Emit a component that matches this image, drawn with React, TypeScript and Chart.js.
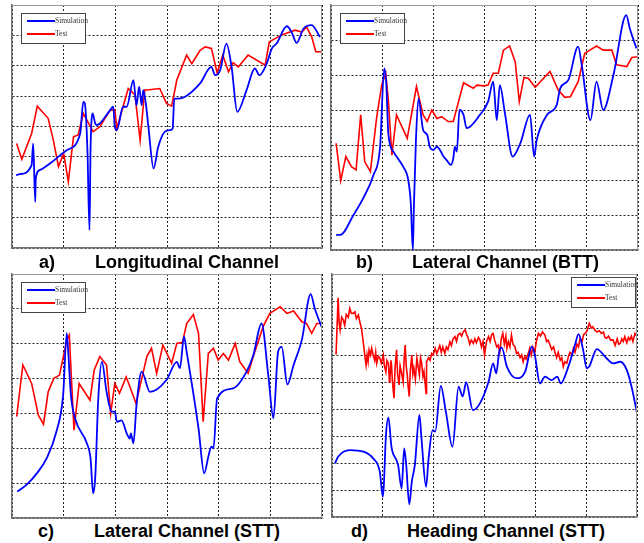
import React, { useEffect, useRef } from "react";
import { Chart, registerables } from "chart.js";
Chart.register(...registerables);

// ---- Panel a: Longitudinal Channel ----
const aSimX = [0.08, 0.15, 0.38, 0.41, 0.45, 0.46, 0.54, 0.74, 1.06, 1.32, 1.38, 1.41, 1.46, 1.5, 1.52, 1.56, 1.61, 1.64, 1.7, 1.9, 1.96, 1.99, 2.03, 2.15, 2.22, 2.35, 2.41, 2.46, 2.51, 2.54, 2.59, 2.64, 2.74, 2.83, 2.96, 3.06, 3.11, 3.14, 3.22, 3.35, 3.64, 3.86, 3.93, 4.03, 4.15, 4.25, 4.36, 4.54, 4.7, 4.79, 4.93, 5.03, 5.12, 5.32, 5.41, 5.51, 5.64, 5.8, 5.96];
const aSimY = [2.4, 2.43, 2.73, 3.44, 1.52, 2.29, 2.57, 2.79, 3.22, 3.77, 4.81, 4.76, 3.22, 0.59, 3.22, 4.43, 4.1, 4.05, 4.1, 4.54, 4.65, 3.99, 3.88, 4.65, 4.65, 5.53, 4.7, 5.31, 4.7, 5.2, 4.76, 3.99, 2.62, 3.33, 3.83, 3.88, 3.94, 4.92, 4.92, 4.98, 5.42, 5.96, 5.69, 5.86, 6.73, 5.96, 4.48, 5.2, 5.91, 5.69, 6.07, 6.57, 6.73, 7.3, 7.11, 6.75, 7.22, 7.34, 6.95];
const aTestX = [0.09, 0.19, 0.38, 0.49, 0.7, 0.8, 0.9, 1.0, 1.09, 1.19, 1.28, 1.38, 1.57, 1.7, 1.9, 1.99, 2.03, 2.25, 2.38, 2.48, 2.57, 2.61, 2.86, 2.99, 3.09, 3.19, 3.38, 3.48, 3.64, 3.74, 3.86, 3.97, 4.08, 4.19, 4.28, 4.38, 4.57, 4.9, 4.98, 5.1, 5.26, 5.48, 5.61, 5.7, 5.8, 5.88, 6.0];
const aTestY = [3.44, 2.92, 3.77, 4.67, 4.27, 3.55, 2.68, 3.11, 2.18, 3.66, 3.72, 4.43, 3.83, 3.99, 4.54, 4.54, 3.94, 5.25, 5.04, 3.55, 5.2, 5.2, 5.25, 4.76, 4.67, 5.53, 6.35, 6.07, 6.51, 6.62, 6.57, 5.77, 6.35, 5.8, 6.1, 5.96, 6.35, 6.02, 6.79, 6.9, 7.04, 7.17, 7.11, 7.28, 6.95, 6.46, 6.46];

// ---- Panel b: Lateral Channel (BTT) ----
const bSimX = [0.1, 0.18, 0.44, 0.63, 0.83, 0.96, 1.04, 1.08, 1.12, 1.22, 1.41, 1.51, 1.56, 1.6, 1.62, 1.66, 1.71, 1.8, 1.88, 1.93, 2.0, 2.07, 2.13, 2.2, 2.26, 2.34, 2.39, 2.42, 2.46, 2.51, 2.59, 2.65, 2.91, 3.07, 3.17, 3.24, 3.3, 3.4, 3.55, 3.7, 3.89, 3.97, 4.02, 4.22, 4.41, 4.48, 4.64, 4.83, 4.9, 5.07, 5.19, 5.32, 5.52, 5.77, 5.84, 5.97];
const bSimY = [0.43, 0.43, 1.0, 1.48, 2.14, 2.95, 5.19, 4.76, 3.33, 2.81, 2.38, 2.0, 1.33, 0.0, 1.24, 3.14, 4.33, 3.43, 3.29, 2.95, 2.86, 2.95, 2.86, 2.67, 2.57, 2.43, 2.62, 2.95, 2.81, 4.0, 3.86, 3.48, 3.86, 4.24, 4.81, 3.71, 4.71, 3.9, 2.67, 3.05, 3.86, 2.67, 3.14, 3.86, 4.14, 4.62, 4.86, 5.81, 5.29, 3.71, 4.81, 4.0, 5.0, 6.71, 6.33, 5.76];
const bTestX = [0.1, 0.19, 0.29, 0.4, 0.49, 0.58, 0.66, 0.77, 0.89, 0.99, 1.07, 1.12, 1.19, 1.28, 1.49, 1.67, 1.8, 1.88, 1.97, 2.07, 2.16, 2.29, 2.39, 2.59, 2.78, 2.85, 2.98, 3.07, 3.17, 3.27, 3.37, 3.49, 3.6, 3.68, 3.77, 3.86, 3.99, 4.28, 4.44, 4.57, 4.68, 4.83, 4.96, 5.06, 5.19, 5.32, 5.49, 5.58, 5.78, 5.88, 6.0];
const bTestY = [3.05, 1.98, 2.67, 2.38, 2.29, 3.86, 2.52, 2.24, 3.76, 4.71, 5.05, 4.29, 2.71, 3.86, 3.19, 4.67, 3.86, 3.67, 4.0, 3.76, 3.81, 3.67, 3.67, 4.78, 4.62, 4.71, 4.69, 4.71, 5.05, 5.05, 5.71, 5.83, 5.38, 4.24, 4.93, 4.9, 4.65, 5.1, 4.57, 4.36, 4.38, 4.81, 5.62, 5.71, 5.83, 5.71, 5.71, 5.29, 5.24, 5.5, 5.52];

// ---- Panel c: Lateral Channel (STT) ----
const cSimX = [0.1, 0.28, 0.48, 0.67, 0.86, 0.99, 1.06, 1.09, 1.14, 1.22, 1.45, 1.52, 1.57, 1.61, 1.67, 1.74, 1.83, 1.93, 1.99, 2.03, 2.12, 2.22, 2.28, 2.3, 2.35, 2.41, 2.51, 2.67, 2.99, 3.19, 3.25, 3.33, 3.38, 3.61, 3.72, 3.8, 3.86, 3.9, 3.97, 4.28, 4.54, 4.67, 4.83, 4.96, 5.06, 5.15, 5.22, 5.33, 5.45, 5.61, 5.78, 5.86, 5.99];
const cSimY = [0.76, 0.95, 1.28, 1.71, 2.48, 3.53, 5.3, 4.72, 3.53, 2.86, 2.14, 1.71, 0.71, 1.14, 3.43, 4.48, 3.62, 3.05, 3.05, 2.76, 2.8, 2.43, 2.28, 2.43, 2.14, 3.24, 4.2, 3.62, 3.96, 4.48, 4.3, 5.2, 4.77, 2.57, 1.28, 1.76, 2.05, 2.0, 3.43, 3.72, 4.2, 4.67, 5.58, 4.1, 2.86, 4.77, 4.91, 3.83, 4.39, 5.11, 6.42, 6.01, 5.49];
const cTestX = [0.09, 0.21, 0.38, 0.51, 0.61, 0.7, 0.81, 0.92, 1.06, 1.11, 1.15, 1.2, 1.3, 1.51, 1.59, 1.7, 1.83, 1.91, 1.99, 2.08, 2.21, 2.4, 2.61, 2.7, 2.8, 2.92, 3.09, 3.19, 3.3, 3.38, 3.51, 3.61, 3.7, 3.8, 3.9, 3.99, 4.09, 4.19, 4.32, 4.41, 4.57, 4.7, 4.86, 4.99, 5.19, 5.32, 5.45, 5.61, 5.7, 5.8, 5.9, 6.0];
const cTestY = [2.91, 4.39, 3.86, 2.95, 2.69, 3.62, 4.01, 4.1, 5.1, 5.25, 4.01, 2.52, 3.86, 3.38, 4.24, 4.63, 4.39, 3.0, 3.86, 3.58, 4.05, 3.29, 4.63, 4.87, 4.15, 4.96, 4.44, 5.01, 5.04, 5.58, 5.84, 5.3, 2.76, 4.72, 4.87, 4.53, 4.72, 4.53, 5.01, 4.48, 4.15, 4.77, 5.49, 5.87, 6.06, 5.87, 5.94, 5.63, 5.58, 5.3, 5.58, 5.58];

// ---- Panel d: Heading Channel (STT) ----
const dSimX = [0.06, 0.12, 0.35, 0.62, 0.81, 0.94, 1.0, 1.02, 1.06, 1.11, 1.17, 1.3, 1.37, 1.42, 1.46, 1.52, 1.57, 1.63, 1.72, 1.76, 1.85, 1.9, 1.98, 2.03, 2.14, 2.24, 2.37, 2.49, 2.57, 2.64, 2.77, 2.91, 3.08, 3.17, 3.23, 3.29, 3.34, 3.44, 3.63, 3.8, 3.93, 3.99, 4.09, 4.19, 4.32, 4.43, 4.5, 4.65, 4.78, 4.85, 4.94, 5.01, 5.06, 5.21, 5.4, 5.53, 5.67, 5.8, 5.9, 6.0];
const dSimY = [1.99, 2.23, 2.48, 2.42, 2.17, 1.68, 0.75, 1.19, 2.98, 3.68, 2.6, 1.93, 1.06, 2.54, 1.93, 0.47, 1.31, 1.93, 3.78, 2.91, 1.12, 2.17, 3.22, 3.16, 4.86, 3.9, 2.6, 4.83, 4.46, 4.99, 3.96, 4.21, 5.01, 5.69, 5.32, 6.12, 6.27, 5.57, 5.14, 5.38, 6.31, 6.0, 4.95, 5.2, 5.07, 5.2, 4.95, 5.57, 6.37, 6.77, 6.19, 5.51, 5.57, 6.22, 5.88, 5.69, 5.75, 5.44, 4.77, 3.84];
const dTestX = [0.08, 0.11, 0.12, 0.14, 0.16, 0.19, 0.22, 0.25, 0.28, 0.32, 0.35, 0.38, 0.42, 0.45, 0.48, 0.52, 0.55, 0.58, 0.62, 0.65, 0.67, 0.69, 0.71, 0.73, 0.76, 0.78, 0.81, 0.84, 0.86, 0.88, 0.91, 0.94, 0.97, 1.01, 1.03, 1.06, 1.08, 1.11, 1.13, 1.14, 1.16, 1.17, 1.19, 1.22, 1.24, 1.27, 1.29, 1.32, 1.34, 1.37, 1.4, 1.42, 1.44, 1.46, 1.48, 1.5, 1.52, 1.54, 1.57, 1.59, 1.61, 1.64, 1.67, 1.7, 1.72, 1.74, 1.76, 1.79, 1.81, 1.83, 1.85, 1.86, 1.9, 1.93, 1.96, 1.99, 2.03, 2.06, 2.09, 2.12, 2.15, 2.18, 2.22, 2.25, 2.28, 2.32, 2.35, 2.38, 2.42, 2.45, 2.48, 2.52, 2.55, 2.58, 2.62, 2.65, 2.68, 2.71, 2.74, 2.78, 2.81, 2.84, 2.88, 2.91, 2.94, 2.97, 3.0, 3.01, 3.04, 3.08, 3.11, 3.14, 3.17, 3.2, 3.24, 3.27, 3.3, 3.33, 3.36, 3.39, 3.42, 3.44, 3.47, 3.5, 3.53, 3.56, 3.6, 3.63, 3.66, 3.7, 3.73, 3.76, 3.79, 3.82, 3.86, 3.89, 3.92, 3.95, 3.99, 4.02, 4.06, 4.1, 4.14, 4.19, 4.22, 4.25, 4.29, 4.32, 4.36, 4.39, 4.42, 4.45, 4.49, 4.52, 4.55, 4.58, 4.62, 4.65, 4.68, 4.72, 4.75, 4.78, 4.82, 4.85, 4.88, 4.92, 4.95, 4.98, 5.02, 5.06, 5.1, 5.13, 5.17, 5.21, 5.26, 5.3, 5.34, 5.37, 5.4, 5.44, 5.48, 5.53, 5.57, 5.61, 5.64, 5.67, 5.7, 5.73, 5.76, 5.8, 5.83, 5.86, 5.89, 5.92, 5.96, 6.0];
const dTestY = [6.02, 7.6, 8.12, 7.2, 6.93, 7.4, 7.3, 7.1, 7.5, 7.4, 7.73, 7.55, 7.54, 7.6, 7.35, 7.48, 7.2, 6.99, 6.4, 5.9, 5.63, 6.0, 5.75, 6.19, 6.0, 6.25, 6.0, 5.8, 6.1, 5.69, 5.95, 5.88, 5.7, 6.0, 5.6, 5.38, 5.8, 5.69, 5.0, 5.14, 5.8, 5.63, 5.0, 4.4, 5.5, 6.19, 5.3, 4.89, 5.6, 5.32, 5.0, 5.9, 6.37, 5.6, 5.26, 4.8, 4.46, 5.4, 6.0, 5.3, 5.51, 5.1, 5.88, 5.5, 5.26, 5.9, 5.75, 5.2, 5.38, 5.0, 4.58, 5.75, 5.9, 5.8, 6.06, 6.0, 6.25, 6.05, 6.19, 6.35, 6.1, 6.3, 6.06, 6.3, 6.2, 6.49, 6.35, 6.6, 6.68, 6.5, 6.75, 6.8, 6.7, 6.85, 6.93, 6.75, 6.62, 6.4, 6.55, 6.43, 6.6, 6.45, 6.65, 6.56, 6.3, 6.5, 6.0, 6.12, 6.5, 6.68, 6.5, 6.75, 6.8, 6.55, 6.3, 6.37, 6.1, 6.6, 6.8, 6.4, 6.7, 6.25, 6.5, 6.3, 6.74, 6.4, 6.3, 6.06, 6.1, 5.9, 6.0, 5.75, 5.95, 5.85, 6.05, 6.25, 6.0, 6.3, 6.12, 6.5, 6.8, 6.7, 6.85, 6.74, 6.5, 6.55, 6.37, 6.2, 6.3, 6.06, 5.9, 6.1, 5.81, 5.9, 5.57, 5.75, 5.7, 5.94, 6.1, 6.0, 6.25, 6.1, 6.4, 6.3, 6.62, 6.5, 6.75, 6.8, 6.9, 7.17, 7.0, 7.05, 6.93, 6.85, 6.9, 6.8, 6.85, 6.65, 6.62, 6.7, 6.55, 6.56, 6.35, 6.6, 6.4, 6.43, 6.6, 6.5, 6.68, 6.45, 6.65, 6.56, 6.7, 6.5, 6.8, 6.68];

const seriesNames = ["Simulation", "Test"];
const seriesColors = ["#0000ff", "#ff0000"];

const xTicksMax = 6;
const yMaxA = 8;
const yMaxB = 7;
const yMaxC = 7;
const yMaxD = 9;

const titles = [
  { tag: "a)", text: "Longitudinal Channel" },
  { tag: "b)", text: "Lateral Channel (BTT)" },
  { tag: "c)", text: "Lateral Channel (STT)" },
  { tag: "d)", text: "Heading Channel (STT)" },
];

const pts = (xs: number[], ys: number[]) => xs.map((x, i) => ({ x, y: ys[i] }));

type PanelProps = {
  left: number;
  top: number;
  w: number;
  h: number;
  ymax: number;
  simX: number[];
  simY: number[];
  testX: number[];
  testY: number[];
  legendRight?: boolean;
};

const PAD = 3;

function Panel(p: PanelProps) {
  const ref = useRef<HTMLCanvasElement | null>(null);
  useEffect(() => {
    if (!ref.current) return;
    const framePlugin = {
      id: "frameLegend",
      afterDraw(chart: any) {
        const { ctx, chartArea } = chart;
        const { left, top, right, bottom } = chartArea;
        ctx.save();
        ctx.strokeStyle = "#9a9a9a";
        ctx.lineWidth = 1;
        ctx.beginPath();
        ctx.moveTo(left, top + 0.5);
        ctx.lineTo(right - 0.5, top + 0.5);
        ctx.lineTo(right - 0.5, bottom);
        ctx.stroke();
        const bw = 64;
        const bh = 30;
        const bx = p.legendRight ? right - 2 - bw : left + 9;
        const by = p.legendRight ? top + 3 : top + 8;
        ctx.fillStyle = "#ffffff";
        ctx.fillRect(bx, by, bw, bh);
        ctx.strokeStyle = "#444444";
        ctx.lineWidth = 1;
        ctx.strokeRect(bx + 0.5, by + 0.5, bw, bh);
        chart.data.datasets.forEach((ds: any, i: number) => {
          const yy = by + 8 + i * 13;
          ctx.strokeStyle = ds.borderColor;
          ctx.lineWidth = 2;
          ctx.beginPath();
          ctx.moveTo(bx + 6, yy);
          ctx.lineTo(bx + 34, yy);
          ctx.stroke();
          ctx.fillStyle = "#333333";
          ctx.font = "7.5px 'Liberation Serif', 'DejaVu Serif', serif";
          ctx.textBaseline = "middle";
          ctx.textAlign = "left";
          ctx.fillText(ds.label, bx + 34, yy);
        });
        ctx.restore();
      },
    };
    const chart = new Chart(ref.current, {
      type: "line",
      data: {
        datasets: [
          {
            label: seriesNames[0],
            data: pts(p.simX, p.simY),
            borderColor: seriesColors[0],
            backgroundColor: seriesColors[0],
            borderWidth: 1.8,
            pointRadius: 0,
            cubicInterpolationMode: "monotone",
          },
          {
            label: seriesNames[1],
            data: pts(p.testX, p.testY),
            borderColor: seriesColors[1],
            backgroundColor: seriesColors[1],
            borderWidth: 1.6,
            pointRadius: 0,
            tension: 0,
          },
        ],
      },
      options: {
        animation: false,
        responsive: false,
        devicePixelRatio: 1,
        layout: { padding: PAD },
        plugins: { legend: { display: false }, tooltip: { enabled: false }, title: { display: false } },
        scales: {
          x: {
            type: "linear",
            min: 0,
            max: xTicksMax,
            ticks: { display: false, stepSize: 1 },
            grid: { color: "#222222", lineWidth: 1, drawTicks: false },
            border: { display: true, color: "#707070", width: 1.5, dash: [2, 2] },
          },
          y: {
            type: "linear",
            min: 0,
            max: p.ymax,
            ticks: { display: false, stepSize: 1 },
            grid: { color: "#222222", lineWidth: 1, drawTicks: false },
            border: { display: true, color: "#707070", width: 1.5, dash: [2, 2] },
          },
        },
      },
      plugins: [framePlugin],
    });
    return () => chart.destroy();
  }, []);
  return (
    <canvas
      ref={ref}
      width={p.w + PAD * 2}
      height={p.h + PAD * 2}
      style={{ position: "absolute", left: p.left - PAD, top: p.top - PAD, width: p.w + PAD * 2, height: p.h + PAD * 2 }}
    />
  );
}

const titleFont: React.CSSProperties = {
  position: "absolute",
  fontFamily: "'Liberation Sans', Arial, sans-serif",
  fontWeight: "bold",
  fontSize: 18,
  lineHeight: "18px",
  color: "#000",
  whiteSpace: "nowrap",
};

export default function App() {
  return (
    <div style={{ position: "absolute", left: 0, top: 0, width: 644, height: 543, background: "#fff", overflow: "hidden" }}>
      <Panel left={12} top={5} w={310} h={243} ymax={yMaxA} simX={aSimX} simY={aSimY} testX={aTestX} testY={aTestY} />
      <Panel left={331} top={5} w={307} h={245} ymax={yMaxB} simX={bSimX} simY={bSimY} testX={bTestX} testY={bTestY} />
      <Panel left={12} top={274} w={310} h={244} ymax={yMaxC} simX={cSimX} simY={cSimY} testX={cTestX} testY={cTestY} />
      <Panel left={332} top={274} w={305} h={243} ymax={yMaxD} simX={dSimX} simY={dSimY} testX={dTestX} testY={dTestY} legendRight />
      <div style={{ ...titleFont, left: 39, top: 253 }}>{titles[0].tag}</div>
      <div style={{ ...titleFont, left: 95, top: 253 }}>{titles[0].text}</div>
      <div style={{ ...titleFont, left: 356, top: 253 }}>{titles[1].tag}</div>
      <div style={{ ...titleFont, left: 412, top: 253 }}>{titles[1].text}</div>
      <div style={{ ...titleFont, left: 38, top: 522 }}>{titles[2].tag}</div>
      <div style={{ ...titleFont, left: 94, top: 522 }}>{titles[2].text}</div>
      <div style={{ ...titleFont, left: 351, top: 522 }}>{titles[3].tag}</div>
      <div style={{ ...titleFont, left: 407, top: 522 }}>{titles[3].text}</div>
    </div>
  );
}
